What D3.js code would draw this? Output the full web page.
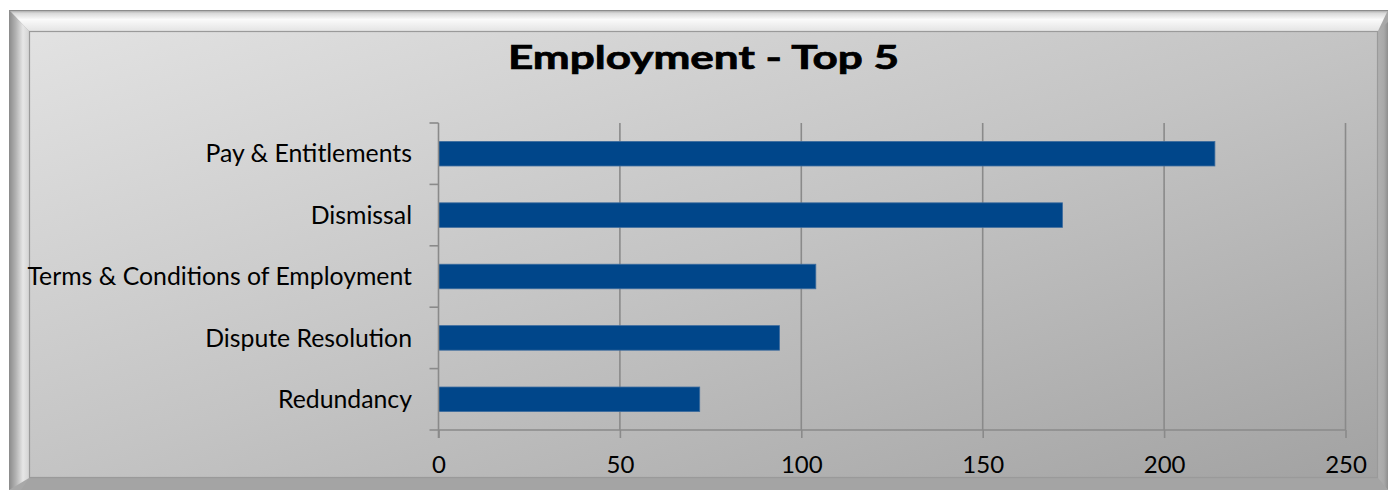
<!DOCTYPE html>
<html>
<head>
<meta charset="utf-8">
<script src="https://cdn.jsdelivr.net/npm/d3@7"></script>
<style>
  html, body { margin: 0; padding: 0; background: #ffffff; }
  svg { display: block; }
</style>
</head>
<body>
<svg id="chart" width="1388" height="490"></svg>
<script>
// Top five employment enquiry topics
const categories = [
  "Pay & Entitlements",
  "Dismissal",
  "Terms & Conditions of Employment",
  "Dispute Resolution",
  "Redundancy"
];
const values = [214, 172, 104, 94, 72];
const xTicks = [0, 50, 100, 150, 200, 250];
const title = "Employment - Top 5";

const W = 1388, H = 490;
const svg = d3.select("#chart");
const defs = svg.append("defs");
const font = "Lato, 'Open Sans', sans-serif";

// panel fill: light grey top-left fading to darker grey bottom-right
const bg = defs.append("linearGradient").attr("id", "panelFill")
  .attr("x1", "0%").attr("y1", "0%").attr("x2", "100%").attr("y2", "100%");
bg.append("stop").attr("offset", "0%").attr("stop-color", "#e2e2e2");
bg.append("stop").attr("offset", "50%").attr("stop-color", "#c4c4c4");
bg.append("stop").attr("offset", "100%").attr("stop-color", "#a2a2a2");

const topBevel = defs.append("linearGradient").attr("id", "topBevel")
  .attr("x1", "0").attr("y1", "0").attr("x2", "0").attr("y2", "1");
topBevel.append("stop").attr("offset", "0%").attr("stop-color", "#9a9a9a");
topBevel.append("stop").attr("offset", "15%").attr("stop-color", "#d8d8d8");
topBevel.append("stop").attr("offset", "45%").attr("stop-color", "#fafafa");
topBevel.append("stop").attr("offset", "100%").attr("stop-color", "#e4e4e4");

const leftBevel = defs.append("linearGradient").attr("id", "leftBevel")
  .attr("x1", "0").attr("y1", "0").attr("x2", "1").attr("y2", "0");
leftBevel.append("stop").attr("offset", "0%").attr("stop-color", "#8a8a8a");
leftBevel.append("stop").attr("offset", "35%").attr("stop-color", "#b4b4b4");
leftBevel.append("stop").attr("offset", "70%").attr("stop-color", "#e6e6e6");
leftBevel.append("stop").attr("offset", "100%").attr("stop-color", "#d4d4d4");

const rightBevel = defs.append("linearGradient").attr("id", "rightBevel")
  .attr("x1", "0").attr("y1", "0").attr("x2", "1").attr("y2", "0");
rightBevel.append("stop").attr("offset", "0%").attr("stop-color", "#b0b0b0");
rightBevel.append("stop").attr("offset", "60%").attr("stop-color", "#a8a8a8");
rightBevel.append("stop").attr("offset", "100%").attr("stop-color", "#8e8e8e");

// outer frame
const outer = { x0: 9, y0: 10, x1: 1388, y1: 490 };
const inner = { x0: 29, y0: 31, x1: 1378, y1: 478 };

svg.append("rect")
  .attr("x", outer.x0).attr("y", outer.y0)
  .attr("width", outer.x1 - outer.x0).attr("height", outer.y1 - outer.y0)
  .attr("fill", "#a8a8a8");

// right and bottom bevels
svg.append("polygon")
  .attr("points", [[inner.x1, inner.y0], [outer.x1, outer.y0 + 12], [outer.x1, outer.y1], [inner.x1, inner.y1]].join(" "))
  .attr("fill", "url(#rightBevel)");
svg.append("polygon")
  .attr("points", [[inner.x0, inner.y1], [inner.x1, inner.y1], [outer.x1, outer.y1], [outer.x0 + 12, outer.y1]].join(" "))
  .attr("fill", "#a4a4a4");
// top and left bevels
svg.append("polygon")
  .attr("points", [[outer.x0, outer.y0], [outer.x1, outer.y0], [inner.x1, inner.y0], [inner.x0, inner.y0]].join(" "))
  .attr("fill", "url(#topBevel)");
svg.append("polygon")
  .attr("points", [[outer.x0, outer.y0], [inner.x0, inner.y0], [inner.x0, inner.y1], [outer.x0, outer.y1]].join(" "))
  .attr("fill", "url(#leftBevel)");
svg.append("line")
  .attr("x1", outer.x0).attr("y1", outer.y0 + 0.5).attr("x2", outer.x1).attr("y2", outer.y0 + 0.5)
  .attr("stroke", "#8c8c8c").attr("stroke-width", 1);

// inner panel
svg.append("rect")
  .attr("x", inner.x0 + 0.5).attr("y", inner.y0 + 0.5)
  .attr("width", inner.x1 - inner.x0 - 1).attr("height", inner.y1 - inner.y0 - 1)
  .attr("fill", "url(#panelFill)")
  .attr("stroke", "#9a9a9a").attr("stroke-width", 1.2);

// plot area
const plot = { left: 438.5, right: 1345.5, top: 123, bottom: 430 };

const x = d3.scaleLinear().domain([0, 250]).range([plot.left, plot.right]);
const y = d3.scaleBand().domain(categories).range([plot.top, plot.bottom])
  .paddingInner(0.6).paddingOuter(0.3);
const yEdges = d3.scaleBand().domain(categories).range([plot.top, plot.bottom]);

const gridColor = "#8a8a8a";

// vertical gridlines
svg.append("g").selectAll("line")
  .data(xTicks.filter(t => t > 0))
  .join("line")
  .attr("x1", d => x(d)).attr("x2", d => x(d))
  .attr("y1", plot.top).attr("y2", plot.bottom)
  .attr("stroke", gridColor).attr("stroke-width", 1.6);

// bars
svg.append("g").selectAll("rect")
  .data(categories.map((c, i) => ({ c, v: values[i] })))
  .join("rect")
  .attr("x", x(0))
  .attr("y", d => y(d.c))
  .attr("width", d => x(d.v) - x(0))
  .attr("height", y.bandwidth())
  .attr("fill", "#00468a")
  .attr("stroke", "#3d6c9e")
  .attr("stroke-width", 0.8);

// bottom axis
const xAxis = d3.axisBottom(x).tickValues(xTicks).tickSize(8).tickSizeOuter(0).tickPadding(18);
const gx = svg.append("g").attr("transform", `translate(0,${plot.bottom})`).call(xAxis);
gx.select(".domain").attr("stroke", gridColor).attr("stroke-width", 1.6)
  .attr("d", `M${plot.left - 9},0H${plot.right}`);
gx.selectAll(".tick line").attr("stroke", gridColor).attr("stroke-width", 1.6);
gx.selectAll(".tick text")
  .attr("fill", "#000").attr("font-family", font).attr("font-size", 24);

// left axis with boundary tick marks
svg.append("line")
  .attr("x1", plot.left).attr("x2", plot.left)
  .attr("y1", plot.top).attr("y2", plot.bottom + 8)
  .attr("stroke", gridColor).attr("stroke-width", 1.6);
const edges = categories.map(c => yEdges(c));
svg.append("g").selectAll("line")
  .data(edges)
  .join("line")
  .attr("x1", plot.left - 9).attr("x2", plot.left)
  .attr("y1", d => d).attr("y2", d => d)
  .attr("stroke", gridColor).attr("stroke-width", 1.6);

// category labels
svg.append("g").selectAll("text")
  .data(categories)
  .join("text")
  .attr("x", 412)
  .attr("y", c => y(c) + y.bandwidth() / 2)
  .attr("dy", "0.35em")
  .attr("text-anchor", "end")
  .attr("font-family", font)
  .attr("font-size", 24.8)
  .attr("fill", "#000")
  .text(c => c);

// title: wide bold heading
svg.append("text")
  .attr("x", 703.5).attr("y", 69)
  .attr("text-anchor", "middle")
  .attr("font-family", font)
  .attr("font-weight", "bold")
  .attr("font-size", 32)
  .attr("textLength", 391)
  .attr("lengthAdjust", "spacingAndGlyphs")
  .attr("fill", "#000")
  .attr("stroke", "#000")
  .attr("stroke-width", 0.7)
  .text(title);
</script>
</body>
</html>
